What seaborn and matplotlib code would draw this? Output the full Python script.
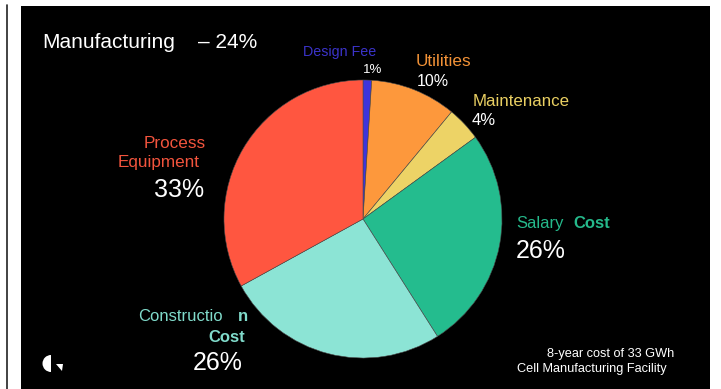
import matplotlib
matplotlib.use("Agg")
import matplotlib.pyplot as plt
import seaborn as sns
from matplotlib.patches import Rectangle, Wedge, Polygon

# ---- data ----
categories = ["Design Fee", "Utilities", "Maintenance", "Salary Cost",
              "Construction Cost", "Process Equipment"]
shares = [1, 10, 4, 26, 26, 33]
slice_colors = ["#3E34DC", "#FD983C", "#EDD366", "#24BC8E", "#8CE4D5", "#FF5640"]
label_colors = ["#3B33C9", "#F29237", "#E9CF62", "#25B98B", "#80DBCB", "#F2543D"]
title_text = "Manufacturing"
title_share = "\u2013 24%"
note_lines = ["8-year cost of 33 GWh", "Cell Manufacturing Facility"]

sns.set_theme(style="white")
plt.rcParams["font.family"] = ["Liberation Sans", "DejaVu Sans"]

W, H = 721, 389
fig = plt.figure(figsize=(W / 100, H / 100), dpi=100)
fig.patch.set_facecolor("white")

# overlay axes in pixel coordinates
ov = fig.add_axes([0, 0, 1, 1])
ov.set_xlim(0, W)
ov.set_ylim(H, 0)
ov.axis("off")
ov.add_patch(Rectangle((21, 6), 689, 390, facecolor="black", edgecolor="none", zorder=0))
ov.plot([6.5, 6.5], [5, H], color="#222222", lw=1.2, zorder=1)

# pie axes
cx, cy, r = 363, 219, 139
pax = fig.add_axes([(cx - r) / W, (H - cy - r) / H, 2 * r / W, 2 * r / H])
pax.pie(shares, colors=slice_colors, startangle=90, counterclock=False,
        wedgeprops=dict(edgecolor="#4a4a4a", linewidth=0.4))
pax.set_xlim(-1, 1)
pax.set_ylim(-1, 1)
pax.set_aspect("auto")
pax.axis("off")

def t(x, y, s, size, color="white", weight="normal"):
    ov.text(x, y, s, fontsize=size, color=color, fontweight=weight,
            ha="left", va="baseline", zorder=5)

# title
t(42, 48, title_text, 15)
t(198, 48, title_share, 15)

# Design Fee
t(303, 56, categories[0], 10.3, label_colors[0])
t(363, 73, f"{shares[0]}%", 9.5)
# Utilities
t(416, 66, categories[1], 12.3, label_colors[1])
t(417, 86, f"{shares[1]}%", 11.5)
# Maintenance
t(473, 106, categories[2], 12.2, label_colors[2])
t(472, 125, f"{shares[2]}%", 12)
# Salary Cost
t(516, 228, "Salary", 12, label_colors[3])
t(573, 228, "Cost", 12, label_colors[3], "bold")
t(516, 258, f"{shares[3]}%", 18)
# Construction Cost
t(138, 321, "Constructio", 12, label_colors[4])
t(238, 321, "n", 12, label_colors[4], "bold")
t(208, 342, "Cost", 12, label_colors[4], "bold")
t(193, 370, f"{shares[4]}%", 18)
# Process Equipment
t(144, 148, "Process", 12.3, label_colors[5])
t(118, 167, "Equipment", 12.3, label_colors[5])
t(154, 197, f"{shares[5]}%", 18)

# note
t(547, 357, note_lines[0], 9.2)
t(517, 372, note_lines[1], 9.2)

# logo
ov.add_patch(Wedge((51, 363.5), 8.5, 90, 270, facecolor="white", edgecolor="none", zorder=5))
ov.add_patch(Polygon([[56, 364], [63, 364], [62, 371]], closed=True,
                     facecolor="white", edgecolor="none", zorder=5))

fig.savefig("out.png", dpi=100, facecolor=fig.get_facecolor())
